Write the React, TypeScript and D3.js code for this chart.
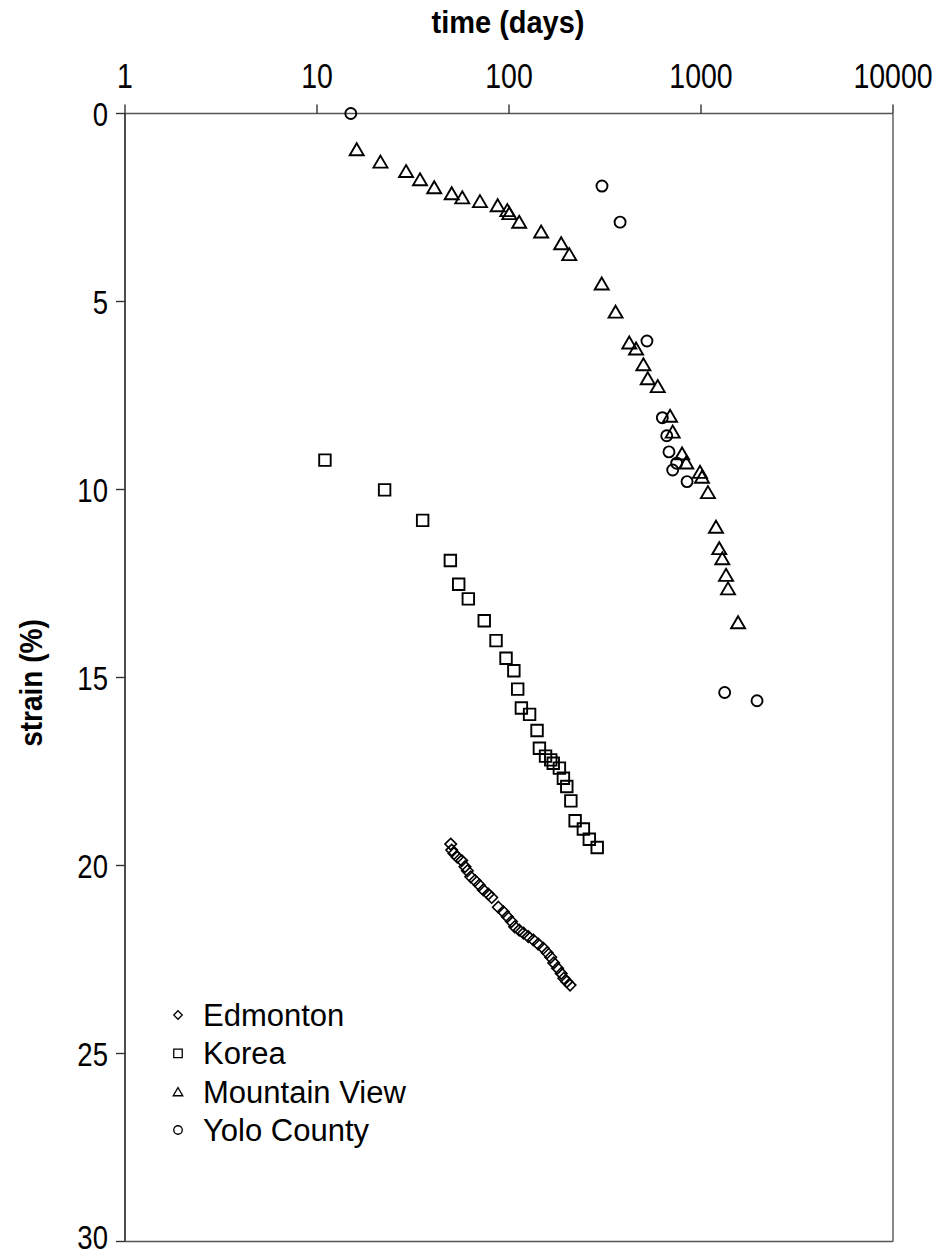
import React from "react";
import * as d3 from "d3";

const xTicks = [1, 10, 100, 1000, 10000];
const yTicks = [0, 5, 10, 15, 20, 25, 30];
const seriesNames = ["Edmonton", "Korea", "Mountain View", "Yolo County"];

const edmonton: [number, number][] = [
  [49.7, 19.43], [50.3, 19.59], [51.7, 19.68], [53.8, 19.78], [56.7, 19.87], [59.0, 20.03],
  [60.7, 20.14], [63.2, 20.3], [66.5, 20.4], [70.0, 20.52], [73.5, 20.65], [78.0, 20.76],
  [81.3, 20.85], [88.0, 21.11], [93.4, 21.23], [98.0, 21.36], [103, 21.49], [107, 21.63],
  [113, 21.72], [119, 21.8], [126, 21.89], [134, 21.98], [142, 22.09], [151, 22.2],
  [158, 22.32], [165, 22.44], [171, 22.59], [179, 22.73], [187, 22.87], [193, 23.0],
  [200, 23.09], [208, 23.18],
];

const korea: [number, number][] = [
  [11.0, 9.22], [22.5, 10.01], [35.5, 10.82], [49.5, 11.89], [54.7, 12.52], [61.4, 12.91],
  [74.3, 13.49], [85.6, 14.02], [96.5, 14.49], [106, 14.82], [111, 15.31], [116, 15.81],
  [128, 15.98], [140, 16.41], [144, 16.88], [155, 17.09], [165, 17.19], [170, 17.28],
  [183, 17.41], [192, 17.68], [200, 17.9], [210, 18.28], [221, 18.81], [244, 19.03],
  [262, 19.3], [288, 19.52],
];

const mountainView: [number, number][] = [
  [16.1, 0.95], [21.4, 1.28], [29.1, 1.53], [34.4, 1.75], [40.8, 1.96], [50.3, 2.12],
  [57.1, 2.23], [70.6, 2.33], [87.3, 2.44], [98.0, 2.57], [100.4, 2.65], [113, 2.88],
  [147, 3.14], [187, 3.45], [206, 3.74], [304, 4.52], [359, 5.27], [423, 6.09],
  [459, 6.25], [501, 6.67], [528, 7.04], [595, 7.25], [690, 8.04], [712, 8.46],
  [797, 9.04], [838, 9.28], [988, 9.53], [1012, 9.66], [1087, 10.07], [1197, 10.99],
  [1245, 11.56], [1291, 11.83], [1350, 12.27], [1383, 12.63], [1560, 13.53],
];

const yolo: [number, number][] = [
  [15, 0], [305, 1.93], [379, 2.89], [523, 6.05], [629, 8.09], [663, 8.57], [681, 9.0],
  [747, 9.3], [712, 9.48], [846, 9.79], [1328, 15.4], [1958, 15.62],
];

const W = 945;
const H = 1256;
const FONT = "'Liberation Sans', Arial, sans-serif";

const x = d3.scaleLog().domain([1, 10000]).range([125, 893]);
const y = d3.scaleLinear().domain([0, 30]).range([113.5, 1241.5]);

type Shape = "diamond" | "square" | "triangle" | "circle";
const shapes: Shape[] = ["diamond", "square", "triangle", "circle"];

function markerPath(shape: Shape, cx: number, cy: number, s: number): string {
  const p = d3.path();
  if (shape === "diamond") {
    const r = s * 0.5;
    p.moveTo(cx, cy - r);
    p.lineTo(cx + r, cy);
    p.lineTo(cx, cy + r);
    p.lineTo(cx - r, cy);
    p.closePath();
  } else if (shape === "square") {
    const r = s * 0.5;
    p.rect(cx - r, cy - r, 2 * r, 2 * r);
  } else if (shape === "triangle") {
    const hw = s * 0.56;
    const hh = s * 0.48;
    p.moveTo(cx, cy - hh);
    p.lineTo(cx + hw, cy + hh);
    p.lineTo(cx - hw, cy + hh);
    p.closePath();
  } else {
    const r = s * 0.5;
    p.moveTo(cx + r, cy);
    p.arc(cx, cy, r, 0, Math.PI * 2);
    p.closePath();
  }
  return p.toString();
}

const allSeries = [edmonton, korea, mountainView, yolo];
const sizes = [11.5, 11.5, 12.5, 11];

export default function App() {
  const legendY = d3.scaleLinear().domain([0, 3]).range([1015, 1130]);
  return (
    <svg
      width={W}
      height={H}
      style={{ position: "absolute", left: 0, top: 0, background: "#fff" }}
      fontFamily={FONT}
    >
      <rect x={0} y={0} width={W} height={H} fill="#fff" />
      {/* frame */}
      <line x1={x(1)} x2={x(10000)} y1={y(0)} y2={y(0)} stroke="#555" strokeWidth={1.6} />
      <line x1={x(1)} x2={x(1)} y1={y(0)} y2={y(30)} stroke="#222" strokeWidth={1.6} />
      <line x1={x(10000)} x2={x(10000)} y1={y(0)} y2={y(30)} stroke="#555" strokeWidth={1.4} />
      <line x1={x(1)} x2={x(10000)} y1={y(30)} y2={y(30)} stroke="#555" strokeWidth={1.4} />
      {/* x ticks */}
      {xTicks.map((t) => (
        <g key={"xt" + t}>
          <line x1={x(t)} x2={x(t)} y1={y(0)} y2={y(0) - 9} stroke="#333" strokeWidth={1.4} />
          <text
            transform={`translate(${x(t)}, 88) scale(0.95, 1.15)`}
            textAnchor="middle"
            fontSize={30}
          >
            {String(t)}
          </text>
        </g>
      ))}
      {/* y ticks */}
      {yTicks.map((t, i) => (
        <g key={"yt" + t}>
          <line x1={x(1) - 9} x2={x(1)} y1={y(t)} y2={y(t)} stroke="#333" strokeWidth={1.4} />
          <text
            transform={`translate(108, ${y(t) - (i === yTicks.length - 1 ? 5 : 0)}) scale(0.95, 1.15)`}
            dy="0.36em"
            textAnchor="end"
            fontSize={29}
          >
            {String(t)}
          </text>
        </g>
      ))}
      <text
        transform="translate(508, 33) scale(1, 1.1)"
        textAnchor="middle"
        fontSize={29}
        fontWeight="bold"
      >
        time (days)
      </text>
      <text
        transform={`translate(42, 683) rotate(-90) scale(1, 1.1)`}
        textAnchor="middle"
        fontSize={28}
        fontWeight="bold"
      >
        strain (%)
      </text>
      {/* data */}
      {allSeries.map((ser, si) => (
        <g key={"s" + si}>
          {ser.map((d, i) => (
            <path
              key={i}
              d={markerPath(shapes[si], x(d[0]), y(d[1]), sizes[si])}
              fill="none"
              stroke="#000"
              strokeWidth={si === 0 ? 1.6 : 1.9}
            />
          ))}
        </g>
      ))}
      {/* legend */}
      {seriesNames.map((name, i) => (
        <g key={"lg" + i}>
          <path
            d={markerPath(shapes[i], 178, legendY(i), 8.5)}
            fill="none"
            stroke="#000"
            strokeWidth={1.3}
          />
          <text x={203} y={legendY(i)} dy="0.36em" fontSize={31}>
            {name}
          </text>
        </g>
      ))}
    </svg>
  );
}
